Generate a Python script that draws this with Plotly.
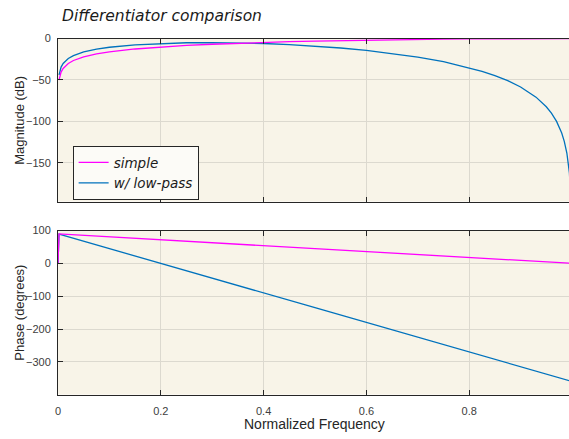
import plotly.graph_objects as go

# Frequency-response samples of two first-order differentiators
freq_mag = [0.002, 0.004, 0.006, 0.01, 0.015, 0.02, 0.03, 0.04, 0.05, 0.075,
            0.1, 0.15, 0.2, 0.25, 0.3, 0.35, 0.4, 0.45, 0.5, 0.55, 0.6, 0.65,
            0.7, 0.75, 0.8, 0.825, 0.85, 0.875, 0.9, 0.93, 0.95, 0.96, 0.97,
            0.98, 0.985, 0.99, 0.995, 0.998]

mag_simple = [-50.1, -44.0, -40.5, -36.1, -32.6, -30.1, -26.5, -24.0, -22.1, -18.6,
              -16.1, -12.6, -10.2, -8.3, -6.9, -5.6, -4.6, -3.8, -3.0, -2.4, -1.8, -1.4,
              -1.0, -0.7, -0.4, -0.3, -0.2, -0.2, -0.1, -0.05, -0.03, -0.02, -0.01,
              0.0, 0.0, 0.0, 0.0, 0.0]

mag_lowpass = [-44.0, -38.0, -34.5, -30.1, -26.5, -24.1, -20.6, -18.1, -16.2, -12.8,
               -10.5, -7.6, -5.9, -5.1, -4.9, -5.2, -6.0, -7.3, -9.0, -11.4, -14.3, -17.9,
               -22.4, -28.0, -35.2, -39.6, -44.8, -50.9, -58.5, -70.8, -82.4, -90.2, -100.1,
               -114.2, -124.2, -138.3, -162.4, -194.2]

freq_phase = [0.0, 0.002, 0.5, 0.998]
phase_simple = [0.0, 89.8, 45.0, 0.2]
phase_lowpass = [0.0, 89.1, -135.0, -359.1]

x_ticks = [0, 0.2, 0.4, 0.6, 0.8, 1]
x_tick_text = ["0", "0.2", "0.4", "0.6", "0.8", "1"]
mag_ticks = [0, -50, -100, -150]
phase_ticks = [100, 0, -100, -200, -300]

W, H = 569, 439
MAGENTA = "#ff00ff"
BLUE = "#0072bd"
BG = "#f8f4e8"
GRID = "#dcd9cf"
AXIS = "#262626"
TICKFONT = dict(family="Liberation Sans, Arial, sans-serif", size=11, color="#404040")

# the frequency axis runs to 1.0 a few pixels past the right edge of the page
X_LEFT, X_UNIT = 55.3, 516.7
x_right = (W - X_LEFT) / X_UNIT

fig = go.Figure()

fig.add_trace(go.Scatter(x=freq_mag, y=mag_lowpass, mode="lines",
                         line=dict(color=BLUE, width=1.3),
                         name="<i>w/ low-pass</i>", legendrank=2,
                         xaxis="x", yaxis="y"))
fig.add_trace(go.Scatter(x=freq_mag, y=mag_simple, mode="lines",
                         line=dict(color=MAGENTA, width=1.3),
                         name="<i>simple</i>", legendrank=1,
                         xaxis="x", yaxis="y"))
fig.add_trace(go.Scatter(x=freq_phase, y=phase_lowpass, mode="lines",
                         line=dict(color=BLUE, width=1.3),
                         showlegend=False, xaxis="x2", yaxis="y2"))
fig.add_trace(go.Scatter(x=freq_phase, y=phase_simple, mode="lines",
                         line=dict(color=MAGENTA, width=1.3),
                         showlegend=False, xaxis="x2", yaxis="y2"))

x_dom = [X_LEFT / W, 1.0]
top_dom = [(H - 198.3) / H, (H - 33.0) / H]
bot_dom = [(H - 394.0) / H, (H - 227.7) / H]

common_x = dict(range=[0, x_right], domain=x_dom, tickvals=x_ticks, ticktext=x_tick_text,
                showline=True, linecolor=AXIS, linewidth=1, mirror="ticks",
                ticks="inside", ticklen=5, tickcolor=AXIS, tickwidth=1,
                showgrid=True, gridcolor=GRID, gridwidth=1, zeroline=False,
                tickfont=TICKFONT, fixedrange=True)
common_y = dict(showline=True, linecolor=AXIS, linewidth=1, mirror=False,
                ticks="inside", ticklen=5, tickcolor=AXIS, tickwidth=1,
                showgrid=True, gridcolor=GRID, gridwidth=1, zeroline=False,
                tickfont=TICKFONT, ticklabelstandoff=4, fixedrange=True)

fig.update_layout(
    width=W, height=H,
    margin=dict(l=0, r=0, t=0, b=0),
    paper_bgcolor="white",
    plot_bgcolor=BG,
    xaxis=dict(common_x, anchor="y", showticklabels=False),
    yaxis=dict(common_y, domain=top_dom, anchor="x", range=[-197, 0],
               tickvals=mag_ticks),
    xaxis2=dict(common_x, anchor="y2", showticklabels=True, ticklabelstandoff=6),
    yaxis2=dict(common_y, domain=bot_dom, anchor="x2", range=[-400, 100],
                tickvals=phase_ticks),
    legend=dict(x=70 / W, y=1 - 142 / H, xanchor="left", yanchor="top",
                bgcolor="#fcfbf7", bordercolor=AXIS, borderwidth=1,
                font=dict(family="DejaVu Sans, sans-serif", size=13.5, color="#1a1a1a"),
                itemwidth=30, tracegroupgap=0),
    showlegend=True,
    annotations=[
        dict(text="<i>Differentiator comparison</i>", x=57 / W, y=1 - 10 / H,
             xref="paper", yref="paper", xanchor="left", yanchor="middle",
             showarrow=False,
             font=dict(family="DejaVu Sans, sans-serif", size=15.5, color="#1a1a1a")),
        dict(text="Magnitude (dB)", x=17 / W, y=1 - 115.5 / H, textangle=-90,
             xref="paper", yref="paper", xanchor="center", yanchor="middle",
             showarrow=False,
             font=dict(family="Liberation Sans, Arial, sans-serif", size=13, color="#262626")),
        dict(text="Phase (degrees)", x=17 / W, y=1 - 311 / H, textangle=-90,
             xref="paper", yref="paper", xanchor="center", yanchor="middle",
             showarrow=False,
             font=dict(family="Liberation Sans, Arial, sans-serif", size=13, color="#262626")),
        dict(text="Normalized Frequency", x=313 / W, y=1 - 424 / H,
             xref="paper", yref="paper", xanchor="center", yanchor="middle",
             showarrow=False,
             font=dict(family="Liberation Sans, Arial, sans-serif", size=14, color="#262626")),
    ],
)

fig.write_html("out.html", config={"displayModeBar": False})
